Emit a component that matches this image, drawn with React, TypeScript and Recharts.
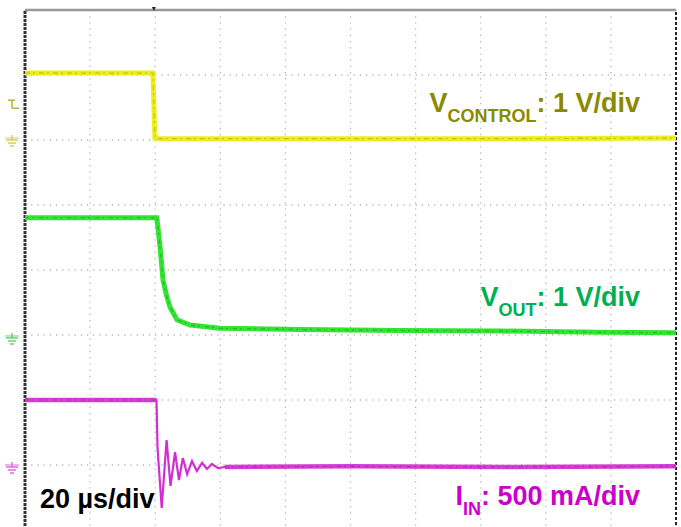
import React from 'react';
import { LineChart, Line, XAxis, YAxis, CartesianGrid, ReferenceLine, ReferenceDot } from 'recharts';

// Time axis: 20 µs/div, 10 divisions
const timeTicks = [0, 20, 40, 60, 80, 100, 120, 140, 160, 180, 200];
// Vertical axis in screen divisions (8 divisions)
const divTicks = [0, 1, 2, 3, 4, 5, 6, 7, 8];

// V_CONTROL (V), 1 V/div, ground at division 6.0
const vControlTime = [0, 20, 39.3, 39.9, 41, 60, 100, 150, 200];
const vControlVolts = [1.03, 1.03, 1.03, 0.03, 0.02, 0.02, 0.02, 0.02, 0.03];

// V_OUT (V), 1 V/div, ground at division 2.95
const vOutTime = [0, 20, 40.5, 41.5, 42.4, 43.5, 44.5, 46.7, 50.7, 59.9, 84.5, 115, 146, 176.6, 200];
const vOutVolts = [1.85, 1.85, 1.85, 1.4, 0.89, 0.65, 0.48, 0.28, 0.2, 0.15, 0.13, 0.115, 0.107, 0.09, 0.08];

// I_IN (A), 500 mA/div, ground at division 0.97
const iInTime = [0, 20, 40.4, 40.7, 42.0, 43.5, 44.7, 46.1, 47.3, 48.5, 49.8, 51.3, 52.8, 54.4, 55.9, 57.4, 59.3, 61.4, 100, 150, 200];
const iInAmps = [0.515, 0.515, 0.515, 0.154, -0.315, 0.208, -0.146, 0.115, -0.1, 0.069, -0.054, 0.046, -0.031, 0.031, -0.015, 0.023, -0.008, 0.0, 0.005, 0.0, 0.005];

const channels = {
  control: { ground: 6.0, perDiv: 1 },
  out: { ground: 2.954, perDiv: 1 },
  iin: { ground: 0.969, perDiv: 0.5 },
};

const toDiv = (times: number[], vals: number[], ch: { ground: number; perDiv: number }) =>
  times.map((t, i) => ({ t, d: ch.ground + vals[i] / ch.perDiv }));

const vControlData = toDiv(vControlTime, vControlVolts, channels.control);
const vOutData = toDiv(vOutTime, vOutVolts, channels.out);
const iInData = toDiv(iInTime, iInAmps, channels.iin);
const iInSteady = iInData.map((p) => ({ t: p.t, d: p.t > 40.4 && p.t < 61 ? null : p.d }));

const triggerLevel = 0.55; // V on V_CONTROL
const triggerTime = 39.6;

const groundShape = (color: string) => (props: any) => {
  const { cx, cy } = props;
  const x = cx - 13;
  return (
    <g stroke={color} strokeWidth={1.5} fill="none">
      <line x1={x} y1={cy - 5} x2={x} y2={cy} />
      <line x1={x - 6} y1={cy} x2={x + 6} y2={cy} />
      <line x1={x - 4} y1={cy + 3} x2={x + 4} y2={cy + 3} />
      <line x1={x - 2} y1={cy + 6} x2={x + 2} y2={cy + 6} />
      <line x1={x - 7} y1={cy - 2} x2={x + 7} y2={cy - 2} strokeWidth={1} />
    </g>
  );
};

const triggerShape = (props: any) => {
  const { cx, cy } = props;
  const x = cx - 13;
  return (
    <g stroke="#b8b840" strokeWidth={1.6} fill="none">
      <line x1={x - 4} y1={cy - 4} x2={x + 3} y2={cy - 4} />
      <line x1={x} y1={cy - 4} x2={x} y2={cy + 4} />
      <line x1={x} y1={cy + 4} x2={x + 7} y2={cy + 4} />
    </g>
  );
};

const topMarker = (props: any) => {
  const { cx, cy } = props;
  return <path d={`M${cx - 2},${cy - 3} L${cx + 2},${cy - 3} L${cx},${cy + 1} Z`} fill="#222" />;
};

const font = '"Liberation Sans", Arial, sans-serif';

export default function App() {
  return (
    <div style={{ position: 'absolute', left: 0, top: 0, width: 681, height: 527, overflow: 'hidden', background: '#fff' }}>
      <LineChart width={681} height={540} margin={{ top: 10, right: 5, left: 25, bottom: 10 }}>
        <XAxis type="number" dataKey="t" domain={[0, 200]} ticks={timeTicks} hide />
        <YAxis type="number" domain={[0, 8]} ticks={divTicks} hide />
        <CartesianGrid stroke="#b4b4b4" strokeWidth={1.3} strokeDasharray="1.2 5" />
        <ReferenceLine y={8} stroke="#999" strokeWidth={2.5} ifOverflow="visible" />
        <ReferenceLine x={0} stroke="#333" strokeWidth={3} strokeDasharray="3 1" ifOverflow="visible" />
        <ReferenceLine x={200} stroke="#222" strokeWidth={2} strokeDasharray="3 2" ifOverflow="visible" />
        <ReferenceDot x={triggerTime} y={8} r={0} shape={topMarker} ifOverflow="visible" />

        <Line data={vControlData} dataKey="d" type="linear" stroke="#eeee1a" strokeWidth={5} dot={false} isAnimationActive={false} />
        <Line data={vControlData} dataKey="d" type="linear" stroke="#a0a020" strokeWidth={1.2} strokeOpacity={0.55} strokeDasharray="5 3 2 4" dot={false} isAnimationActive={false} />

        <Line data={vOutData} dataKey="d" type="linear" stroke="#33e533" strokeWidth={5} dot={false} isAnimationActive={false} />
        <Line data={vOutData} dataKey="d" type="linear" stroke="#1a8a1a" strokeWidth={1.2} strokeOpacity={0.5} strokeDasharray="4 3 2 5" dot={false} isAnimationActive={false} />

        <Line data={iInData} dataKey="d" type="linear" stroke="#d22ed2" strokeWidth={2.2} dot={false} isAnimationActive={false} />
        <Line data={iInSteady} dataKey="d" type="linear" stroke="#d63cd6" strokeWidth={4.5} dot={false} connectNulls={false} isAnimationActive={false} />
        <Line data={iInSteady} dataKey="d" type="linear" stroke="#9a109a" strokeWidth={1.1} strokeOpacity={0.5} strokeDasharray="4 3 2 5" dot={false} connectNulls={false} isAnimationActive={false} />

        <ReferenceDot x={0} y={channels.control.ground + triggerLevel} r={0} shape={triggerShape} ifOverflow="visible" />
        <ReferenceDot x={0} y={channels.control.ground} r={0} shape={groundShape('#d0d060')} ifOverflow="visible" />
        <ReferenceDot x={0} y={channels.out.ground} r={0} shape={groundShape('#70d070')} ifOverflow="visible" />
        <ReferenceDot x={0} y={channels.iin.ground} r={0} shape={groundShape('#d870d8')} ifOverflow="visible" />
      </LineChart>
      <svg width={681} height={527} style={{ position: 'absolute', left: 0, top: 0, pointerEvents: 'none' }}>
        <text x={640} y={112} textAnchor="end" fontFamily={font} fontWeight="bold" fontSize={27} fill="#8a8a00">
          V<tspan fontSize={18} dy={10}>CONTROL</tspan><tspan dy={-10}>: 1 V/div</tspan>
        </text>
        <text x={640} y={306} textAnchor="end" fontFamily={font} fontWeight="bold" fontSize={27} fill="#00b050">
          V<tspan fontSize={18} dy={10}>OUT</tspan><tspan dy={-10}>: 1 V/div</tspan>
        </text>
        <text x={640} y={505} textAnchor="end" fontFamily={font} fontWeight="bold" fontSize={27} fill="#cc00cc">
          I<tspan fontSize={18} dy={10}>IN</tspan><tspan dy={-10}>: 500 mA/div</tspan>
        </text>
        <text x={40} y={508} fontFamily={font} fontWeight="bold" fontSize={27} fill="#000">
          20 µs/div
        </text>
      </svg>
    </div>
  );
}
